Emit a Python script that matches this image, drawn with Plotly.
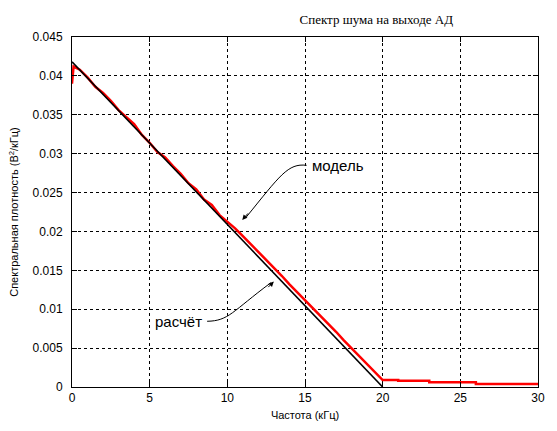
import plotly.graph_objects as go

# --- data ---
freq_model = [0, 20]
dens_model = [0.0418, 0.0]

freq_calc = [0, 0.1, 0.5, 1.0, 1.5, 2.0, 2.5, 3.0, 3.5, 4.0, 4.5, 5.0, 5.5, 6.0, 6.5,
             7.0, 7.5, 8.0, 8.5, 9.0, 9.5, 10.0, 10.5, 11.0, 11.5, 12.0, 12.5, 13.0,
             13.5, 14.0, 14.5, 15.0, 15.5, 16.0, 16.5, 17.0, 17.5, 18.0, 18.5, 19.0,
             19.5, 20.0, 21.0, 21.0, 23.0, 23.0, 26.0, 26.0, 30.0]
dens_calc = [0.0390, 0.0412, 0.0408, 0.0398, 0.0386, 0.0378, 0.0368, 0.0356, 0.0347,
             0.0338, 0.0324, 0.0314, 0.0302, 0.0295, 0.0284, 0.0274, 0.0262, 0.0254,
             0.0241, 0.0234, 0.0221, 0.0213, 0.0204, 0.0194, 0.0184, 0.0174, 0.0163,
             0.0154, 0.0143, 0.0132, 0.0122, 0.0112, 0.0102, 0.0092, 0.0081, 0.0071,
             0.0060, 0.0050, 0.0040, 0.0030, 0.0020, 0.0009, 0.0009, 0.0008, 0.0008,
             0.0006, 0.0006, 0.0004, 0.0004]

x_ticks = [0, 5, 10, 15, 20, 25, 30]
y_ticks = [0, 0.005, 0.01, 0.015, 0.02, 0.025, 0.03, 0.035, 0.04, 0.045]
y_tick_text = ["0", "0.005", "0.01", "0.015", "0.02", "0.025", "0.03", "0.035", "0.04", "0.045"]

title_text = "Спектр шума на выходе АД"
x_label = "Частота (кГц)"
y_label = "Спектральная плотность (В<sup>2</sup>/кГц)"
label_model = "модель"
label_calc = "расчёт"

fig = go.Figure()
fig.add_trace(go.Scatter(x=freq_calc, y=dens_calc, mode="lines",
                         line=dict(color="#ff0000", width=2.5), showlegend=False))
fig.add_trace(go.Scatter(x=freq_model, y=dens_model, mode="lines",
                         line=dict(color="#000000", width=1.6), showlegend=False))

sans = "Liberation Sans, Arial, sans-serif"

axis_common = dict(
    showline=True, linecolor="black", linewidth=1, mirror="ticks",
    ticks="inside", ticklen=5, tickcolor="black",
    showgrid=True, gridcolor="black", gridwidth=1, griddash="3px,3px",
    zeroline=False, tickfont=dict(family=sans, size=12, color="black"),
)

fig.update_xaxes(range=[0, 30], tickvals=x_ticks, **axis_common,
                 title=dict(text=x_label, font=dict(family=sans, size=11, color="black"),
                            standoff=6))
fig.update_yaxes(range=[0, 0.045], tickvals=y_ticks, ticktext=y_tick_text,
                 ticklabelstandoff=6, **axis_common,
                 title=dict(text=y_label, font=dict(family=sans, size=11, color="black"),
                            standoff=11))

# curved arrows
fig.add_shape(type="path", xref="x", yref="y",
              path="M 15.1,0.0285 C 13.9,0.0288 13.4,0.0272 11.2,0.0218",
              line=dict(color="black", width=1))
fig.add_shape(type="path", xref="x", yref="y",
              path="M 8.7,0.00845 C 10.1,0.0085 10.3,0.0097 12.8,0.0134",
              line=dict(color="black", width=1))
fig.add_annotation(x=10.96, y=0.02148, ax=7, ay=-8, text="", showarrow=True,
                   arrowhead=2, arrowsize=1, arrowwidth=1, arrowcolor="black")
fig.add_annotation(x=12.99, y=0.01355, ax=-7, ay=7, text="", showarrow=True,
                   arrowhead=2, arrowsize=1, arrowwidth=1, arrowcolor="black")
fig.add_annotation(x=15.3, y=0.0285, text=label_model, showarrow=False, xanchor="left",
                   font=dict(family=sans, size=15, color="black"))
fig.add_annotation(x=8.5, y=0.00845, text=label_calc, showarrow=False, xanchor="right",
                   font=dict(family=sans, size=15, color="black"))

fig.update_layout(
    width=557, height=431,
    margin=dict(l=72, r=14, t=37, b=42),
    paper_bgcolor="white", plot_bgcolor="white",
    title=dict(text=title_text, x=0.653, xref="paper", xanchor="center",
               y=0.955, yref="container", yanchor="middle",
               font=dict(family="Liberation Serif, Times New Roman, serif", size=13, color="black")),
)

fig.write_html("out.html")
